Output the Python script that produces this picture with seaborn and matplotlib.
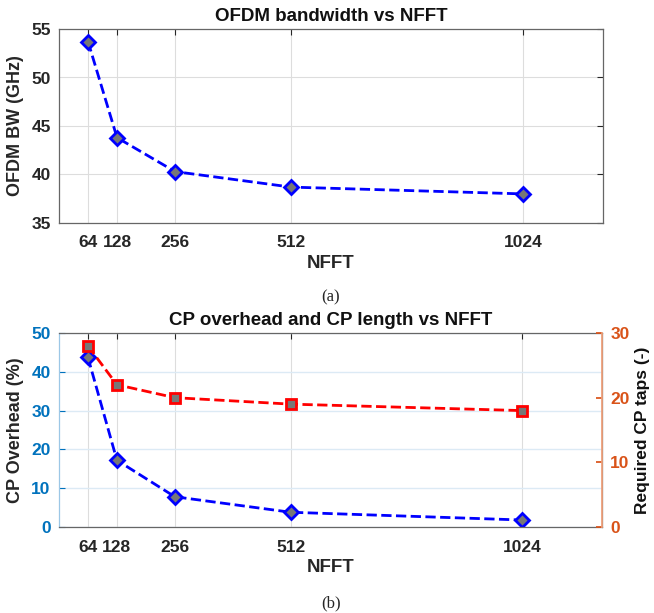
import numpy as np
import pandas as pd
import matplotlib
matplotlib.use("Agg")
import matplotlib.pyplot as plt
import seaborn as sns

nfft = [64, 128, 256, 512, 1024]
ofdm_bw = [53.7, 43.8, 40.3, 38.7, 38.0]
cp_overhead = [43.7, 17.2, 7.8, 3.8, 1.8]
cp_taps = [28, 22, 20, 19, 18]

sns.set_theme(style="white")
plt.rcParams['font.family'] = ['Liberation Sans Narrow', 'Liberation Sans', 'DejaVu Sans']
plt.rcParams['font.weight'] = 'bold'

BLUE = '#0000FF'
LBLUE = '#0072BD'
ORANGE = '#D95319'
FRAME = '#666666'

fig = plt.figure(figsize=(6.54, 6.13), dpi=100)
W, H = 654, 613
def rect(l, t, r, b):
    return [l / W, 1 - b / H, (r - l) / W, (b - t) / H]

df1 = pd.DataFrame({'NFFT': nfft, 'BW': ofdm_bw})
df2 = pd.DataFrame({'NFFT': nfft, 'OH': cp_overhead, 'taps': cp_taps})

def style_axes(ax):
    ax.set_xlim(0, 1200)
    ax.set_xticks(nfft)
    ax.set_xticklabels([str(v) for v in nfft])
    ax.tick_params(direction='in', length=4, width=0.8, labelsize=12.5, top=True, right=True, colors='#262626', pad=6)
    ax.tick_params(axis='x', pad=9)
    for s in ax.spines.values():
        s.set_color(FRAME)
        s.set_linewidth(0.9)
    ax.grid(True, color='#DDDDDD', linewidth=0.8)
    ax.set_axisbelow(True)

# Top panel
ax1 = fig.add_axes(rect(59, 29, 603, 223))
sns.lineplot(data=df1, x='NFFT', y='BW', ax=ax1, color=BLUE, linestyle='--', linewidth=2,
             marker='D', markersize=7.5, markerfacecolor='#777777', markeredgecolor=BLUE, markeredgewidth=2)
style_axes(ax1)
ax1.set_ylim(35, 55)
ax1.set_yticks([35, 40, 45, 50, 55])
ax1.set_xlabel('NFFT', fontsize=13.5, fontweight='bold', labelpad=3, family=['Liberation Sans', 'DejaVu Sans'])
ax1.set_ylabel('OFDM BW (GHz)', fontsize=13, fontweight='bold', family=['Liberation Sans', 'DejaVu Sans'], labelpad=5)
ax1.set_title('OFDM bandwidth vs NFFT', fontsize=13.5, fontweight='bold', pad=6, color='#111111')
fig.text(331 / W, 1 - 297 / H, '(a)', ha='center', va='center', fontsize=12,
         family=['Liberation Serif', 'DejaVu Serif'], fontweight='normal')

# Bottom panel
ax2 = fig.add_axes(rect(59, 333, 602, 527))
sns.lineplot(data=df2, x='NFFT', y='OH', ax=ax2, color=BLUE, linestyle='--', linewidth=2,
             marker='D', markersize=7.5, markerfacecolor='#777777', markeredgecolor=BLUE, markeredgewidth=2)
style_axes(ax2)
ax2.tick_params(right=False)
ax2.set_ylim(0, 50)
ax2.set_yticks([0, 10, 20, 30, 40, 50])
ax2.yaxis.grid(True, color='#DCEAF5', linewidth=1.0)
ax2.tick_params(axis='y', colors=LBLUE)
ax2.spines['left'].set_color('#9CC7E6')
ax2.set_xlabel('NFFT', fontsize=13.5, fontweight='bold', labelpad=3, family=['Liberation Sans', 'DejaVu Sans'])
ax2.set_ylabel('CP Overhead (%)', fontsize=13, fontweight='bold', family=['Liberation Sans', 'DejaVu Sans'], labelpad=5)
ax2.set_title('CP overhead and CP length vs NFFT', fontsize=13.5, fontweight='bold', pad=6, color='#111111')

ax3 = ax2.twinx()
sns.lineplot(data=df2, x='NFFT', y='taps', ax=ax3, color='#FF0000', linestyle='--', linewidth=2,
             marker='s', markersize=7.5, markerfacecolor='#777777', markeredgecolor='#FF0000', markeredgewidth=2)
ax3.set_ylim(0, 30)
ax3.set_yticks([0, 10, 20, 30])
ax3.tick_params(axis='y', direction='in', length=4, colors=ORANGE, labelsize=12.5, pad=6)
for s in ax3.spines.values():
    s.set_visible(False)
ax3.spines['right'].set_visible(True)
ax3.spines['right'].set_color('#F0A07A')
ax3.set_ylabel('Required CP taps (-)', fontsize=12.5, fontweight='bold', color='#111111',
               family=['Liberation Sans', 'DejaVu Sans'], labelpad=4)
ax3.grid(False)
fig.text(331 / W, 1 - 603 / H, '(b)', ha='center', va='center', fontsize=12,
         family=['Liberation Serif', 'DejaVu Serif'], fontweight='normal')

fig.savefig('out.png', dpi=100)
